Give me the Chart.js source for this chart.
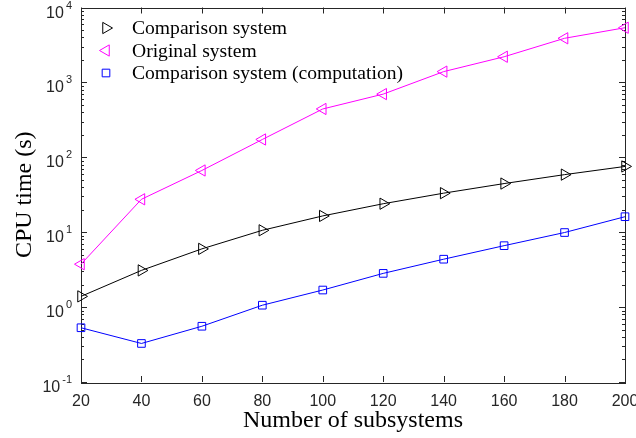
<!DOCTYPE html>
<html>
<head>
<meta charset="utf-8">
<title>CPU time vs number of subsystems</title>
<script src="https://cdn.jsdelivr.net/npm/chart.js@4.4.0/dist/chart.umd.min.js"></script>
<style>
  html, body { margin: 0; padding: 0; background: #fff; }
  canvas { display: block; }
</style>
</head>
<body>
<canvas id="chart" width="636" height="438"></canvas>
<script>
// values
const subsystems = [20, 40, 60, 80, 100, 120, 140, 160, 180, 200];
const comparisonTime = [1.39, 3.09, 5.99, 10.6, 16.5, 24.0, 33.2, 44.6, 58.7, 75.5];
const originalTime = [3.74, 27.5, 66.7, 173, 442, 698, 1393, 2200, 3880, 5370];
const computationTime = [0.53, 0.327, 0.555, 1.06, 1.69, 2.82, 4.36, 6.61, 9.9, 16.1];

const xTicks = [20, 40, 60, 80, 100, 120, 140, 160, 180, 200];
const yExponents = [-1, 0, 1, 2, 3, 4];

const seriesNames = ['Comparison system', 'Original system', 'Comparison system (computation)'];

const axisColor = '#262626';
const serif = '"Liberation Serif", "Times New Roman", serif';
const sans = '"Liberation Sans", Arial, sans-serif';

toPoints = (values) => subsystems.map((x, i) => ({ x: x, y: values[i] }));

makeDataset = (label, values, color, style, rotation, radius) => ({
    label: label,
    data: toPoints(values),
    borderColor: color,
    borderWidth: 1,
    backgroundColor: 'rgba(0,0,0,0)',
    pointStyle: style,
    pointRotation: rotation,
    pointRadius: radius,
    pointHoverRadius: radius,
    pointBorderWidth: 1,
    pointBorderColor: color,
    pointBackgroundColor: 'rgba(0,0,0,0)',
    tension: 0,
    fill: false,
    clip: false
});

/**
 * MATLAB-like box: inward ticks on all four sides, log minor ticks,
 * superscript tick labels, axis titles and a legend inside the plot.
 */
const matlabAxes = {
    id: 'matlabAxes',
    beforeDatasetsDraw(chart) {
        const ctx = chart.ctx;
        const area = chart.chartArea;
        const xs = chart.scales.x;
        const ys = chart.scales.y;
        ctx.save();
        ctx.strokeStyle = axisColor;
        ctx.lineWidth = 1;
        ctx.beginPath();
        xTicks.forEach((v) => {
            const px = Math.round(xs.getPixelForValue(v)) + 0.5;
            ctx.moveTo(px, area.bottom); ctx.lineTo(px, area.bottom - 6);
            ctx.moveTo(px, area.top); ctx.lineTo(px, area.top + 6);
        });
        yExponents.forEach((e) => {
            const py = Math.round(ys.getPixelForValue(Math.pow(10, e))) + 0.5;
            ctx.moveTo(area.left, py); ctx.lineTo(area.left + 6, py);
            ctx.moveTo(area.right, py); ctx.lineTo(area.right - 6, py);
            if (e < 4) {
                for (let k = 2; k <= 9; k++) {
                    const pm = Math.round(ys.getPixelForValue(k * Math.pow(10, e))) + 0.5;
                    ctx.moveTo(area.left, pm); ctx.lineTo(area.left + 3, pm);
                    ctx.moveTo(area.right, pm); ctx.lineTo(area.right - 3, pm);
                }
            }
        });
        ctx.stroke();
        ctx.strokeRect(Math.round(area.left) + 0.5, Math.round(area.top) + 0.5,
            Math.round(area.right - area.left), Math.round(area.bottom - area.top));
        ctx.restore();
    },
    afterDraw(chart) {
        const ctx = chart.ctx;
        const area = chart.chartArea;
        const xs = chart.scales.x;
        const ys = chart.scales.y;
        ctx.save();
        ctx.fillStyle = axisColor;

        // x tick labels
        ctx.font = '16px ' + sans;
        ctx.textAlign = 'center';
        ctx.textBaseline = 'alphabetic';
        xTicks.forEach((v) => {
            ctx.fillText(String(v), xs.getPixelForValue(v), area.bottom + 24);
        });

        // y tick labels: 10 with superscript exponent
        yExponents.forEach((e) => {
            const py = ys.getPixelForValue(Math.pow(10, e));
            const expRight = area.left - 9;
            ctx.font = '11px ' + sans;
            ctx.textAlign = 'right';
            ctx.fillText(String(e), expRight, py + 1);
            const expWidth = ctx.measureText(String(e)).width;
            ctx.font = '16px ' + sans;
            ctx.fillText('10', expRight - expWidth - 2, py + 10);
        });

        // axis titles
        ctx.fillStyle = '#000';
        ctx.font = '24px ' + serif;
        ctx.textAlign = 'center';
        ctx.fillText('Number of subsystems', (area.left + area.right) / 2, 427);
        ctx.save();
        ctx.translate(31, (area.top + area.bottom) / 2);
        ctx.rotate(-Math.PI / 2);
        ctx.fillText('CPU time (s)', 0, 0);
        ctx.restore();

        // legend
        const rowsY = [28, 50.5, 73];
        chart.data.datasets.forEach((ds, i) => {
            ctx.save();
            ctx.strokeStyle = ds.borderColor;
            ctx.fillStyle = 'rgba(0,0,0,0)';
            ctx.lineWidth = 1;
            Chart.helpers.drawPoint(ctx, {
                pointStyle: ds.pointStyle,
                rotation: ds.pointRotation,
                radius: ds.pointRadius,
                borderWidth: 1
            }, 106, rowsY[i]);
            ctx.restore();
            ctx.fillStyle = '#000';
            ctx.font = '19.6px ' + serif;
            ctx.textAlign = 'left';
            ctx.fillText(ds.label, 132, rowsY[i] + 6);
        });
        ctx.restore();
    }
};

const chart = new Chart(document.getElementById('chart'), {
    type: 'line',
    data: {
        datasets: [
            makeDataset(seriesNames[0], comparisonTime, '#000000', 'triangle', 90, 6.5),
            makeDataset(seriesNames[1], originalTime, '#ff00ff', 'triangle', -90, 6.5),
            makeDataset(seriesNames[2], computationTime, '#0000ff', 'rect', 0, 5.4)
        ]
    },
    options: {
        responsive: false,
        animation: false,
        devicePixelRatio: 1,
        layout: { padding: { left: 81, right: 11, top: 4, bottom: 56 } },
        scales: {
            x: { type: 'linear', min: 20, max: 200, display: false },
            y: { type: 'logarithmic', min: 0.1, max: 10000, display: false }
        },
        plugins: {
            legend: { display: false },
            tooltip: { enabled: false }
        }
    },
    plugins: [matlabAxes]
});
</script>
</body>
</html>
